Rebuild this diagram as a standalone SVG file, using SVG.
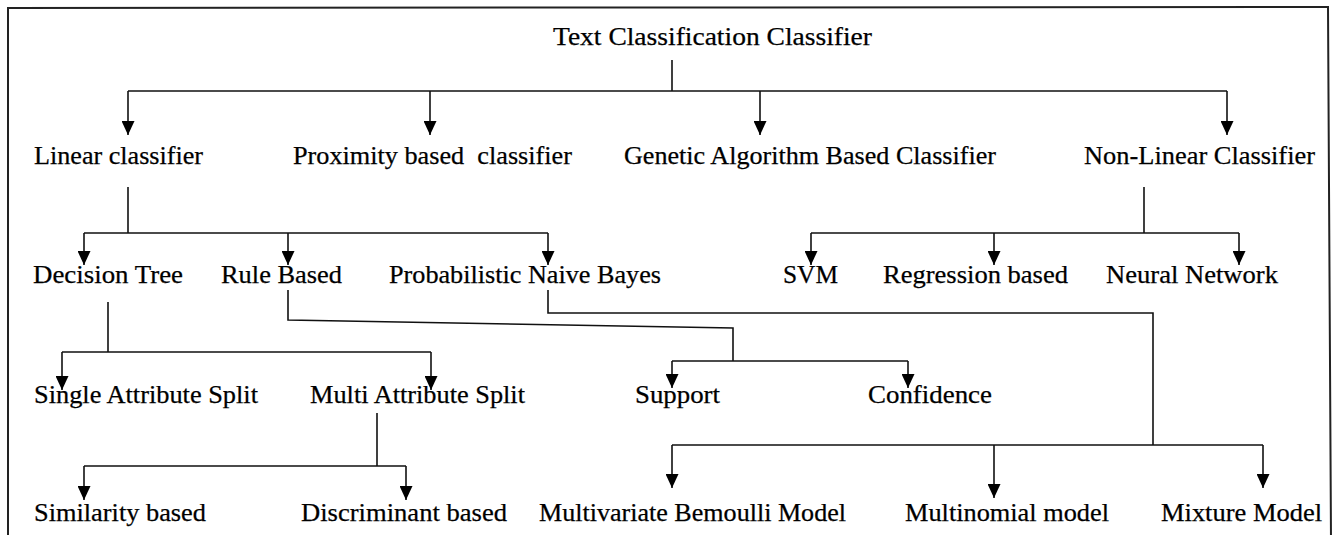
<svg xmlns="http://www.w3.org/2000/svg" width="1340" height="535" viewBox="0 0 1340 535">
  <style>
    .lbl { font-family: "Liberation Serif", "Times New Roman", serif; font-size: 25.5px; fill: #000; stroke: #000; stroke-width: 0.25; }
    .ln { fill: none; stroke: #111; stroke-width: 1.6; }
    .arr { fill: none; stroke: #111; stroke-width: 1.6; marker-end: url(#head); }
    .frame { fill: none; stroke: #222; stroke-width: 2; }
  </style>
  <defs>
    <marker id="head" viewBox="0 0 14 13" refX="14" refY="6.5" markerWidth="14" markerHeight="13" markerUnits="userSpaceOnUse" orient="auto">
      <path d="M0,0 L14,6.5 L0,13 z" fill="#000"/>
    </marker>
  </defs>
  <rect width="1340" height="535" fill="#fff"/>

  <!-- outer frame (open at the bottom) -->
  <path class="frame" d="M8,540 L8,8 L1328,7 L1331,540"/>

  <!-- connectors -->
  <g id="connectors">
    <!-- root -->
    <path class="ln" d="M672,60 V91 M128,91 H1227"/>
    <path class="arr" d="M128,91 V135"/>
    <path class="arr" d="M430,91 V135"/>
    <path class="arr" d="M760,91 V135"/>
    <path class="arr" d="M1227,91 V135"/>
    <!-- linear classifier -->
    <path class="ln" d="M128,187 V233 M84,233 H548"/>
    <path class="arr" d="M84,233 V265"/>
    <path class="arr" d="M288,233 V265"/>
    <path class="arr" d="M548,233 V265"/>
    <!-- non-linear classifier -->
    <path class="ln" d="M1144,187 V233 M811,233 H1239"/>
    <path class="arr" d="M811,233 V265"/>
    <path class="arr" d="M994,233 V265"/>
    <path class="arr" d="M1239,233 V265"/>
    <!-- decision tree -->
    <path class="ln" d="M108,302 V352 M62,352 H431"/>
    <path class="arr" d="M62,352 V390"/>
    <path class="arr" d="M431,352 V390"/>
    <!-- rule based -->
    <path class="ln" d="M288,290 V320 L733,328 V361 M672,361 H908"/>
    <path class="arr" d="M672,361 V388"/>
    <path class="arr" d="M908,361 V388"/>
    <!-- naive bayes -->
    <path class="ln" d="M548,290 V313 H1153 V445 M672,445 H1263"/>
    <path class="arr" d="M672,445 V488"/>
    <path class="arr" d="M994,445 V498"/>
    <path class="arr" d="M1263,445 V488"/>
    <!-- multi attribute split -->
    <path class="ln" d="M377,413 V466 M84,466 H406"/>
    <path class="arr" d="M84,466 V500"/>
    <path class="arr" d="M406,466 V500"/>
  </g>

  <!-- nodes -->
  <g id="n-root"><text class="lbl" x="553" y="45" textLength="319" lengthAdjust="spacingAndGlyphs">Text Classification Classifier</text></g>

  <g id="n-linear"><text class="lbl" x="34" y="164" textLength="169" lengthAdjust="spacingAndGlyphs">Linear classifier</text></g>
  <g id="n-proximity"><text class="lbl" x="293" y="164" textLength="279" lengthAdjust="spacingAndGlyphs" xml:space="preserve">Proximity based  classifier</text></g>
  <g id="n-genetic"><text class="lbl" x="624" y="164" textLength="372" lengthAdjust="spacingAndGlyphs">Genetic Algorithm Based Classifier</text></g>
  <g id="n-nonlinear"><text class="lbl" x="1084" y="164" textLength="231" lengthAdjust="spacingAndGlyphs">Non-Linear Classifier</text></g>

  <g id="n-dtree"><text class="lbl" x="33" y="283" textLength="150" lengthAdjust="spacingAndGlyphs">Decision Tree</text></g>
  <g id="n-rule"><text class="lbl" x="221" y="283" textLength="121" lengthAdjust="spacingAndGlyphs">Rule Based</text></g>
  <g id="n-bayes"><text class="lbl" x="389" y="283" textLength="272" lengthAdjust="spacingAndGlyphs">Probabilistic Naive Bayes</text></g>
  <g id="n-svm"><text class="lbl" x="783" y="283" textLength="55" lengthAdjust="spacingAndGlyphs">SVM</text></g>
  <g id="n-regression"><text class="lbl" x="883" y="283" textLength="185" lengthAdjust="spacingAndGlyphs">Regression based</text></g>
  <g id="n-neural"><text class="lbl" x="1106" y="283" textLength="172" lengthAdjust="spacingAndGlyphs">Neural Network</text></g>

  <g id="n-single"><text class="lbl" x="34" y="403" textLength="224" lengthAdjust="spacingAndGlyphs">Single Attribute Split</text></g>
  <g id="n-multi"><text class="lbl" x="310" y="403" textLength="215" lengthAdjust="spacingAndGlyphs">Multi Attribute Split</text></g>
  <g id="n-support"><text class="lbl" x="635" y="403" textLength="85" lengthAdjust="spacingAndGlyphs">Support</text></g>
  <g id="n-confidence"><text class="lbl" x="868" y="403" textLength="124" lengthAdjust="spacingAndGlyphs">Confidence</text></g>

  <g id="n-similarity"><text class="lbl" x="34" y="521" textLength="172" lengthAdjust="spacingAndGlyphs">Similarity based</text></g>
  <g id="n-discriminant"><text class="lbl" x="301" y="521" textLength="206" lengthAdjust="spacingAndGlyphs">Discriminant based</text></g>
  <g id="n-bernoulli"><text class="lbl" x="539" y="521" textLength="307" lengthAdjust="spacingAndGlyphs">Multivariate Bemoulli Model</text></g>
  <g id="n-multinomial"><text class="lbl" x="905" y="521" textLength="204" lengthAdjust="spacingAndGlyphs">Multinomial model</text></g>
  <g id="n-mixture"><text class="lbl" x="1161" y="521" textLength="161" lengthAdjust="spacingAndGlyphs">Mixture Model</text></g>
</svg>
